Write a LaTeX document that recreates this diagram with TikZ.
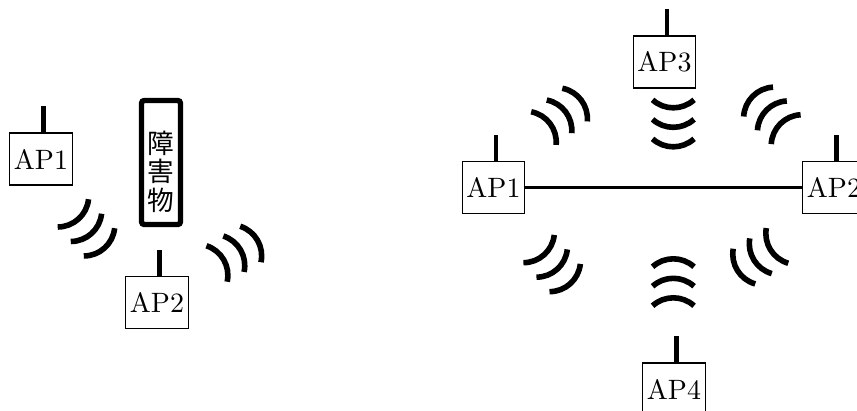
\documentclass[tikz,border=0pt]{standalone}
\usepackage{fontspec}
\newfontfamily\cjk{Noto Sans CJK JP}
\usepackage{tikz}
\newcommand{\signal}[3]{%
  \foreach \k in {-1,0,1} {
    \draw[wave] (#1,#2) ++(#3:\k*19.5) ++(#3:-31) ++(#3-42:31)
      arc[start angle=#3-42, end angle=#3+42, radius=31];
  }%
}

\begin{document}
\begin{tikzpicture}[
    x=0.375pt, y=0.375pt,
    ap/.style={draw, font=\fontsize{10.5}{12}\selectfont, inner xsep=1.6pt,
      minimum height=19.5pt},
    antenna/.style={line width=1.7pt},
    wave/.style={line width=2.1pt},
    link/.style={line width=1.2pt},
    obstacle/.style={draw, line width=2pt, rounded corners=1pt,
      minimum width=14.6pt, minimum height=46.5pt},
    cjktext/.style={font=\cjk\fontsize{10}{10.7}\selectfont, align=center},
    ]
    \useasboundingbox (0,0) rectangle (857,410);
    \clip (0,0) rectangle (857,410);
    \node[ap] (la) at (41,251) {AP1};
    \node[ap] (lb) at (157,107.5) {AP2};
    \node[obstacle, label={[cjktext, yshift=-3.4pt]center:障\\害\\物}] (obs) at (161,247.5) {};
    \node[ap] (ra) at (493.5,222.5) {AP1};
    \node[ap] (rb) at (834,222.5) {AP2};
    \node[ap] (rc) at (664.5,348) {AP3};
    \node[ap] (rd) at (674,21) {AP4};
    \foreach \n in {la,lb,ra,rb,rc,rd}
      \draw[antenna] ([xshift=1pt]\n.north) -- ++(0,26);
    \draw[link] (ra) -- (rb);
    \signal{91.5}{176.5}{-48}
    \signal{240.6}{160}{30}
    \signal{565.6}{298.2}{37}
    \signal{673.3}{282.7}{-90}
    \signal{766.5}{300}{135}
    \signal{557.2}{140.8}{-48}
    \signal{673.3}{131.7}{90}
    \signal{754}{149.8}{212}
  \end{tikzpicture}
\end{document}
